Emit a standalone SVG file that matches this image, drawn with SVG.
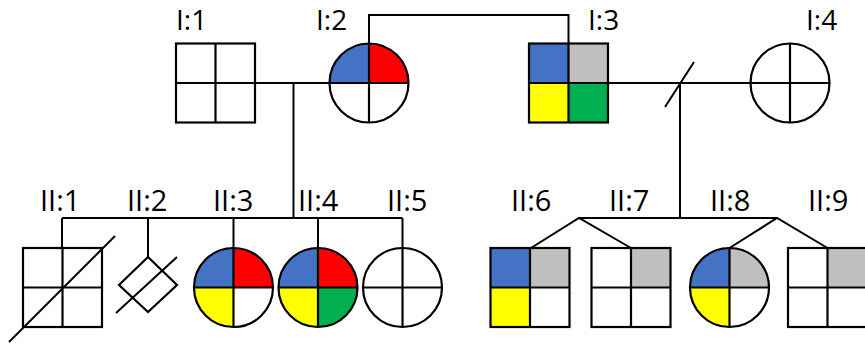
<svg xmlns="http://www.w3.org/2000/svg" width="865" height="348" viewBox="0 0 865 348">
  <style>
    .ln { fill: none; stroke: #000; stroke-width: 2; }
    .ol { fill: none; stroke: #000; stroke-width: 2.2; }
    .lbl { font-family: "Open Sans", "Liberation Sans", sans-serif; font-size: 29px; fill: #000; }
    .top { font-size: 28px; }
    .w { fill: #fff; }
    .blue { fill: #4472C4; }
    .red { fill: #FF0000; }
    .yel { fill: #FFFF00; }
    .grn { fill: #00B050; }
    .gry { fill: #BFBFBF; }
  </style>
  <defs>
    <!-- quadrant shapes centred on the origin -->
    <path id="cTL" d="M0 0 H-39.5 A39.5 39.5 0 0 1 0 -39.5 Z"/>
    <path id="cTR" d="M0 0 V-39.5 A39.5 39.5 0 0 1 39.5 0 Z"/>
    <path id="cBL" d="M0 0 V39.5 A39.5 39.5 0 0 1 -39.5 0 Z"/>
    <path id="cBR" d="M0 0 H39.5 A39.5 39.5 0 0 1 0 39.5 Z"/>
    <rect id="sTL" x="-39.5" y="-39.5" width="39.5" height="39.5"/>
    <rect id="sTR" x="0" y="-39.5" width="39.5" height="39.5"/>
    <rect id="sBL" x="-39.5" y="0" width="39.5" height="39.5"/>
    <rect id="sBR" x="0" y="0" width="39.5" height="39.5"/>
    <g id="circleOutline" class="ol">
      <circle r="39.5"/>
      <path d="M-39.5 0 H39.5 M0 -39.5 V39.5"/>
    </g>
    <g id="squareOutline" class="ol">
      <rect x="-39.5" y="-39.5" width="79" height="79"/>
      <path d="M-39.5 0 H39.5 M0 -39.5 V39.5"/>
    </g>
  </defs>

  <rect width="865" height="348" fill="#fff"/>

  <g id="connectors" class="ln">
    <path d="M255 83 H330"/>
    <path d="M293.5 83 V218"/>
    <path d="M369 43.5 V15 H568.5 V43.5"/>
    <path d="M608 83 H751"/>
    <path d="M665 107 L694 62"/>
    <path d="M680 83 V218"/>
    <path d="M62 218 H402.5"/>
    <path d="M62 218 V248 M148 218 V257 M233.5 218 V248 M318 218 V248 M402.5 218 V248"/>
    <path d="M579 218 H777"/>
    <path d="M531 248 L579 218 L631 248"/>
    <path d="M729.5 248 L777 218 L827.5 248"/>
  </g>

  <g id="I-1" transform="translate(215.5 83)">
    <rect class="w" x="-39.5" y="-39.5" width="79" height="79"/>
    <use href="#squareOutline"/>
  </g>
  <g id="I-2" transform="translate(369 83)">
    <circle class="w" r="39.5"/>
    <use href="#cTL" class="blue"/>
    <use href="#cTR" class="red"/>
    <use href="#circleOutline"/>
  </g>
  <g id="I-3" transform="translate(568.5 83)">
    <use href="#sTL" class="blue"/>
    <use href="#sTR" class="gry"/>
    <use href="#sBL" class="yel"/>
    <use href="#sBR" class="grn"/>
    <use href="#squareOutline"/>
  </g>
  <g id="I-4" transform="translate(790 83)">
    <circle class="w" r="39.5"/>
    <use href="#circleOutline"/>
  </g>

  <g id="II-1" transform="translate(62.5 287.5)">
    <rect class="w" x="-39.5" y="-39.5" width="79" height="79"/>
    <use href="#squareOutline"/>
    <path class="ln" d="M-53.5 54.5 L52.5 -51.5"/>
  </g>
  <g id="II-2" transform="translate(148 285)">
    <path class="w" d="M0 -28 L29 0 L0 27 L-29 0 Z"/>
    <path class="ol" d="M0 -28 L29 0 L0 27 L-29 0 Z"/>
    <path class="ln" d="M-32 28 L29 -28"/>
  </g>
  <g id="II-3" transform="translate(233.5 287.5)">
    <circle class="w" r="39.5"/>
    <use href="#cTL" class="blue"/>
    <use href="#cTR" class="red"/>
    <use href="#cBL" class="yel"/>
    <use href="#circleOutline"/>
  </g>
  <g id="II-4" transform="translate(318 287.5)">
    <use href="#cTL" class="blue"/>
    <use href="#cTR" class="red"/>
    <use href="#cBL" class="yel"/>
    <use href="#cBR" class="grn"/>
    <use href="#circleOutline"/>
  </g>
  <g id="II-5" transform="translate(402.5 287.5)">
    <circle class="w" r="39.5"/>
    <use href="#circleOutline"/>
  </g>
  <g id="II-6" transform="translate(530 287.5)">
    <rect class="w" x="-39.5" y="-39.5" width="79" height="79"/>
    <use href="#sTL" class="blue"/>
    <use href="#sTR" class="gry"/>
    <use href="#sBL" class="yel"/>
    <use href="#squareOutline"/>
  </g>
  <g id="II-7" transform="translate(631 287.5)">
    <rect class="w" x="-39.5" y="-39.5" width="79" height="79"/>
    <use href="#sTR" class="gry"/>
    <use href="#squareOutline"/>
  </g>
  <g id="II-8" transform="translate(729.5 287.5)">
    <circle class="w" r="39.5"/>
    <use href="#cTL" class="blue"/>
    <use href="#cTR" class="gry"/>
    <use href="#cBL" class="yel"/>
    <use href="#circleOutline"/>
  </g>
  <g id="II-9" transform="translate(827.5 287.5)">
    <rect class="w" x="-39.5" y="-39.5" width="79" height="79"/>
    <use href="#sTR" class="gry"/>
    <use href="#squareOutline"/>
  </g>

  <g id="labels" class="lbl">
    <text class="top" x="176" y="30">I:1</text>
    <text class="top" x="316" y="30">I:2</text>
    <text class="top" x="588" y="30">I:3</text>
    <text class="top" x="806" y="30">I:4</text>
    <text x="40" y="211">II:1</text>
    <text x="127" y="211">II:2</text>
    <text x="213" y="211">II:3</text>
    <text x="298" y="211">II:4</text>
    <text x="387" y="211">II:5</text>
    <text x="511" y="211">II:6</text>
    <text x="609" y="211">II:7</text>
    <text x="710" y="211">II:8</text>
    <text x="808" y="211">II:9</text>
  </g>
</svg>
